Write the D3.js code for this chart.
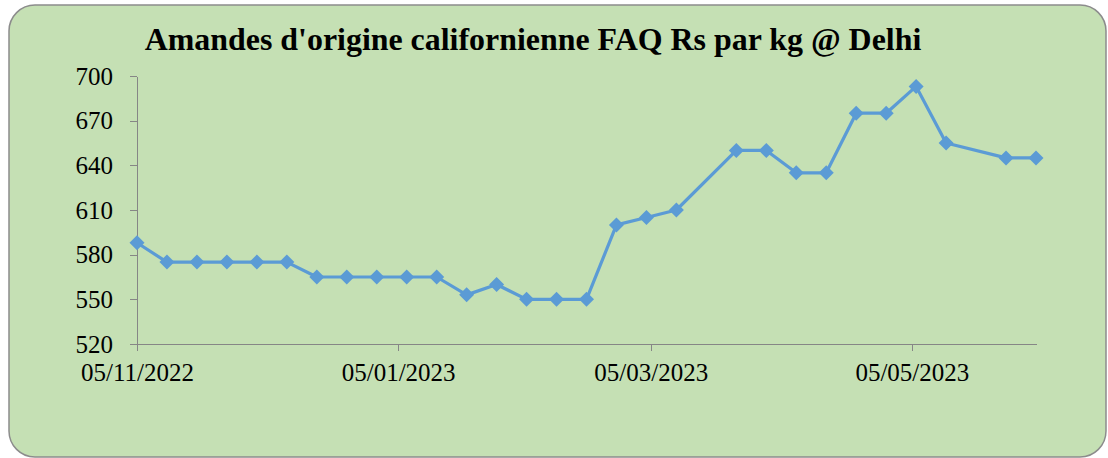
<!DOCTYPE html>
<meta charset="utf-8">
<style>
	body { margin: 0; background: #fff; }
	.axis path, .axis line { fill: none; stroke: #868686; stroke-width: 1.3; shape-rendering: crispEdges; }
	.title { font-weight: bold; font-family: "Liberation Serif", "Times New Roman", serif; fill: #000; }
</style>
<body>
<script src="https://d3js.org/d3.v7.min.js"></script>
<script>

	// weekly prices, two weeks missing in the source
	var dates = ["2022-11-05", "2022-11-12", "2022-11-19", "2022-11-26", "2022-12-03", "2022-12-10",
		"2022-12-17", "2022-12-24", "2022-12-31", "2023-01-07", "2023-01-14", "2023-01-21",
		"2023-01-28", "2023-02-04", "2023-02-11", "2023-02-18", "2023-02-25", "2023-03-04",
		"2023-03-11", "2023-03-25", "2023-04-01", "2023-04-08", "2023-04-15", "2023-04-22",
		"2023-04-29", "2023-05-06", "2023-05-13", "2023-05-27", "2023-06-03"];
	var prices = [588, 575, 575, 575, 575, 575,
		565, 565, 565, 565, 565, 553,
		560, 550, 550, 550, 600, 605,
		610, 650, 650, 635, 635, 675,
		675, 693, 655, 645, 645];
	var xTicks = ["2022-11-05", "2023-01-05", "2023-03-05", "2023-05-05"];
	var yTicks = [520, 550, 580, 610, 640, 670, 700];
	var xDomain = ["2022-11-05", "2023-06-03"];
	var title = "Amandes d'origine californienne FAQ Rs par kg @ Delhi";

	var parse = d3.timeParse("%Y-%m-%d");
	var val = dates.map(function(d, i) { return {date: parse(d), value: prices[i]}; });

	var W = 1108, H = 458;
	var margin = {top: 76, right: 72, bottom: 114, left: 137},
		width = W - margin.left - margin.right,
		height = H - margin.top - margin.bottom;
	var serif = "'Liberation Serif', 'Times New Roman', serif";

	var svg = d3.select("body").append("svg")
		.attr("width", W)
		.attr("height", H);

	// chart area background
	svg.append("rect")
		.attr("x", 9).attr("y", 5)
		.attr("width", 1097).attr("height", 452)
		.attr("rx", 26).attr("ry", 26)
		.attr("fill", "#c5e0b4")
		.attr("stroke", "#8c8c8c")
		.attr("stroke-width", 1.5);

	var t = svg.append("text")
		.attr("class", "title")
		.attr("x", 533)
		.attr("y", 50)
		.attr("text-anchor", "middle")
		.style("font-size", "26px")
		.text(title);
	// stretch title to the width seen in the picture
	var tl = t.node().getComputedTextLength();
	t.style("font-size", (26 * 777 / tl) + "px");

	var g = svg.append("g")
		.attr("transform", "translate(" + margin.left + "," + margin.top + ")");

	var x = d3.scaleTime()
		.domain(xDomain.map(parse))
		.range([0, width]);

	var y = d3.scaleLinear()
		.domain([520, 700])
		.range([height, 0]);

	g.append("g")
		.attr("class", "axis")
		.attr("transform", "translate(0," + height + ")")
		.call(d3.axisBottom(x)
			.tickValues(xTicks.map(parse))
			.tickFormat(d3.timeFormat("%d/%m/%Y"))
			.tickSizeInner(7).tickSizeOuter(0).tickPadding(12))
		.attr("font-family", serif)
		.attr("font-size", 25);

	g.append("g")
		.attr("class", "axis")
		.call(d3.axisLeft(y)
			.tickValues(yTicks)
			.tickSizeInner(7).tickSizeOuter(0).tickPadding(17))
		.attr("font-family", serif)
		.attr("font-size", 25);

	g.selectAll(".axis text").attr("fill", "#000");

	var line = d3.line()
		.x(function(d) { return x(d.date); })
		.y(function(d) { return y(d.value); });

	g.append("path")
		.datum(val)
		.attr("fill", "none")
		.attr("stroke", "#5b9bd5")
		.attr("stroke-width", 3.2)
		.attr("stroke-linejoin", "round")
		.attr("d", line);

	var r = 7.5;
	g.selectAll(".marker")
		.data(val)
		.enter().append("path")
		.attr("class", "marker")
		.attr("fill", "#5b9bd5")
		.attr("d", function(d) {
			var cx = x(d.date), cy = y(d.value);
			return "M" + cx + "," + (cy - r) + "L" + (cx + r) + "," + cy +
				"L" + cx + "," + (cy + r) + "L" + (cx - r) + "," + cy + "Z";
		});

</script>
</body>
